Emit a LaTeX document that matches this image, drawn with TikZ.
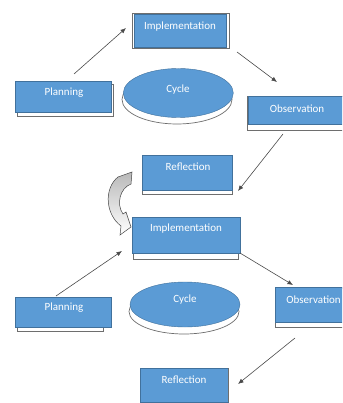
\documentclass[tikz,border=0pt]{standalone}
\usepackage{fontspec}
\setmainfont{Carlito}
\usetikzlibrary{shapes.geometric,arrows.meta}
\definecolor{boxblue}{HTML}{5B9BD5}
\definecolor{boxedge}{HTML}{41719C}
\definecolor{frameedge}{HTML}{6E6E6E}
\definecolor{connc}{HTML}{4A4A4A}
\begin{document}
\begin{tikzpicture}[x=1pt,y=-1pt,
  bluebox/.style={draw=boxedge,fill=boxblue,line width=0.4pt,inner sep=0pt,anchor=north west},
  framebox/.style={draw=frameedge,fill=white,line width=0.7pt},
  cyc/.style={ellipse,draw=boxedge,fill=boxblue,line width=0.4pt,inner sep=0pt},
  lbl/.style={text=white,font=\fontsize{11}{13}\selectfont,inner sep=0pt},
  conn/.style={draw=connc,line width=0.6pt,-{Latex[length=5.5pt,width=4.5pt]}},
  blockarrow/.style={draw=gray!55!black,line width=0.5pt,top color=gray!55,bottom color=white}
]
\clip (0,0) rectangle (342,403);
\fill[white] (0,0) rectangle (342,403);

% ---------- upper cycle ----------
\draw[framebox] (132,13) rectangle (229,48.5);
\node[bluebox,minimum width=92pt,minimum height=33pt] (impl1) at (134,14) {};
\node[lbl] (impl1t) at (180,27) {Implementation};

\draw[framebox] (17,84) rectangle (113,116);
\node[bluebox,minimum width=96pt,minimum height=31pt] (plan1) at (15,81) {};
\node[lbl] (plan1t) at (64,93) {Planning};

\draw[framebox] (177,99.5) ellipse [x radius=55,y radius=24.5];
\node[cyc,minimum width=110pt,minimum height=49pt] (cyc1) at (178.3,93) {};
\node[lbl] (cyc1t) at (178,90) {Cycle};

\draw[framebox] (247,96) rectangle (346,130);
\node[bluebox,minimum width=96pt,minimum height=28pt] (obs1) at (248,96) {};
\node[lbl] (obs1t) at (297,109) {Observation};

\draw[framebox] (142,156) rectangle (232,194);
\node[bluebox,minimum width=90pt,minimum height=35pt] (ref1) at (142,155) {};
\node[lbl] (ref1t) at (188,167) {Reflection};

% ---------- lower cycle ----------
\draw[framebox] (133,220) rectangle (238,259);
\node[bluebox,minimum width=108pt,minimum height=36pt] (impl2) at (132,217) {};
\node[lbl] (impl2t) at (186,229) {Implementation};

\draw[framebox] (17,300) rectangle (103,331);
\node[bluebox,minimum width=96pt,minimum height=30pt] (plan2) at (15,297) {};
\node[lbl] (plan2t) at (64,308) {Planning};

\draw[framebox] (184,311.5) ellipse [x radius=55,y radius=22.5];
\node[cyc,minimum width=110pt,minimum height=45pt] (cyc2) at (185,304.5) {};
\node[lbl] (cyc2t) at (185,300) {Cycle};

\draw[framebox] (275,288) rectangle (346,327);
\node[bluebox,minimum width=69pt,minimum height=35pt] (obs2) at (275,287) {};
\node[lbl] (obs2t) at (313.5,300) {Observation};

\node[bluebox,minimum width=88pt,minimum height=34pt] (ref2) at (140,368) {};
\draw[frameedge,line width=0.7pt] (ref2.north east) -- (ref2.south east);
\node[lbl] (ref2t) at (184,380) {Reflection};

% ---------- connectors ----------
\coordinate (a1s) at (74,74);   \coordinate (a1e) at (126,28);
\coordinate (a2s) at (237,52);  \coordinate (a2e) at (277,82);
\coordinate (a3s) at (283,134); \coordinate (a3e) at (238,191);
\coordinate (a4s) at (56,296);  \coordinate (a4e) at (122,251);
\coordinate (a5s) at (240,253); \coordinate (a5e) at (293,285);
\coordinate (a6s) at (295,338); \coordinate (a6e) at (238,384);
\draw[conn] (a1s) -- (a1e);
\draw[conn] (a2s) -- (a2e);
\draw[conn] (a3s) -- (a3e);
\draw[conn] (a4s) -- (a4e);
\draw[conn] (a5s) -- (a5e);
\draw[conn] (a6s) -- (a6e);

% ---------- curved block arrow ----------
\draw[blockarrow] (118,177) -- (132,172) -- (131,184)
  .. controls (120,188) and (116,204) .. (123,214)
  -- (126,212) -- (131,227) -- (120,235) -- (121,226)
  .. controls (105,214) and (104,188) .. (118,177) -- cycle;
\end{tikzpicture}
\end{document}
